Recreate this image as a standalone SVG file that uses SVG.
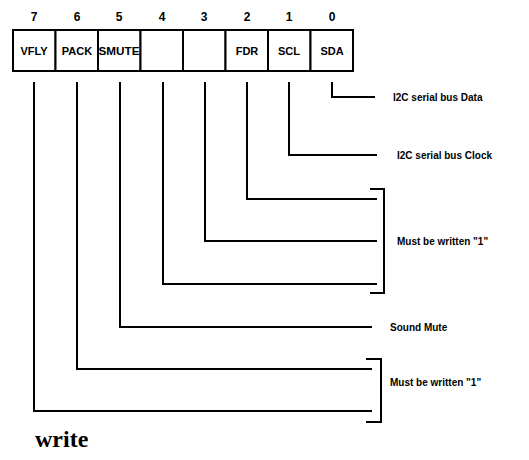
<svg xmlns="http://www.w3.org/2000/svg" width="529" height="460" viewBox="0 0 529 460">
<style>
.num{font-family:"Liberation Sans",Arial,sans-serif;font-weight:bold;font-size:12px;text-anchor:middle;fill:#000}
.cell{fill:#fff;stroke:#000;stroke-width:2}
.fld{font-family:"Liberation Sans",Arial,sans-serif;font-weight:bold;font-size:11px;text-anchor:middle;fill:#000}
.lbl{font-family:"Liberation Sans",Arial,sans-serif;font-weight:bold;font-size:10px;fill:#000}
.ln{fill:none;stroke:#000;stroke-width:2}
.title{font-family:"Liberation Serif","Times New Roman",serif;font-weight:bold;font-size:24px;fill:#000}
</style>
<rect width="529" height="460" fill="#fff"/>
<g id="register">
<g id="bit7"><text class="num" x="34" y="21">7</text><rect class="cell" x="13" y="30" width="42.5" height="41"/><text class="fld" x="34" y="55">VFLY</text></g>
<g id="bit6"><text class="num" x="77" y="21">6</text><rect class="cell" x="55.5" y="30" width="42.5" height="41"/><text class="fld" x="77" y="55">PACK</text></g>
<g id="bit5"><text class="num" x="119" y="21">5</text><rect class="cell" x="98" y="30" width="42.5" height="41"/><text class="fld" x="119" y="55" textLength="41" lengthAdjust="spacingAndGlyphs">SMUTE</text></g>
<g id="bit4"><text class="num" x="162" y="21">4</text><rect class="cell" x="140.5" y="30" width="42.5" height="41"/></g>
<g id="bit3"><text class="num" x="204" y="21">3</text><rect class="cell" x="183" y="30" width="42.5" height="41"/></g>
<g id="bit2"><text class="num" x="247" y="21">2</text><rect class="cell" x="225.5" y="30" width="42.5" height="41"/><text class="fld" x="247" y="55">FDR</text></g>
<g id="bit1"><text class="num" x="289" y="21">1</text><rect class="cell" x="268" y="30" width="42.5" height="41"/><text class="fld" x="289" y="55">SCL</text></g>
<g id="bit0"><text class="num" x="332" y="21">0</text><rect class="cell" x="310.5" y="30" width="42.5" height="41"/><text class="fld" x="332" y="55">SDA</text></g>
</g>
<g id="connectors">
<polyline class="ln" points="332,82 332,97 375,97"/>
<polyline class="ln" points="289,82 289,155 377,155"/>
<polyline class="ln" points="247,82 247,199 377,199"/>
<polyline class="ln" points="205,82 205,241 377,241"/>
<polyline class="ln" points="163,82 163,284 377,284"/>
<polyline class="ln" points="120,82 120,327 372,327"/>
<polyline class="ln" points="77,82 77,369 372,369"/>
<polyline class="ln" points="34,82 34,411 372,411"/>
<polyline class="ln" points="370,189 384,189 384,293 370,293"/>
<polyline class="ln" points="366,359 381,359 381,422 366,422"/>
</g>
<g id="labels">
<text class="lbl" x="393" y="101">I2C serial bus Data</text>
<text class="lbl" x="397" y="159">I2C serial bus Clock</text>
<text class="lbl" x="397" y="245">Must be written "1"</text>
<text class="lbl" x="390" y="331">Sound Mute</text>
<text class="lbl" x="390" y="386">Must be written "1"</text>
</g>
<text class="title" x="35" y="447">write</text>
</svg>
